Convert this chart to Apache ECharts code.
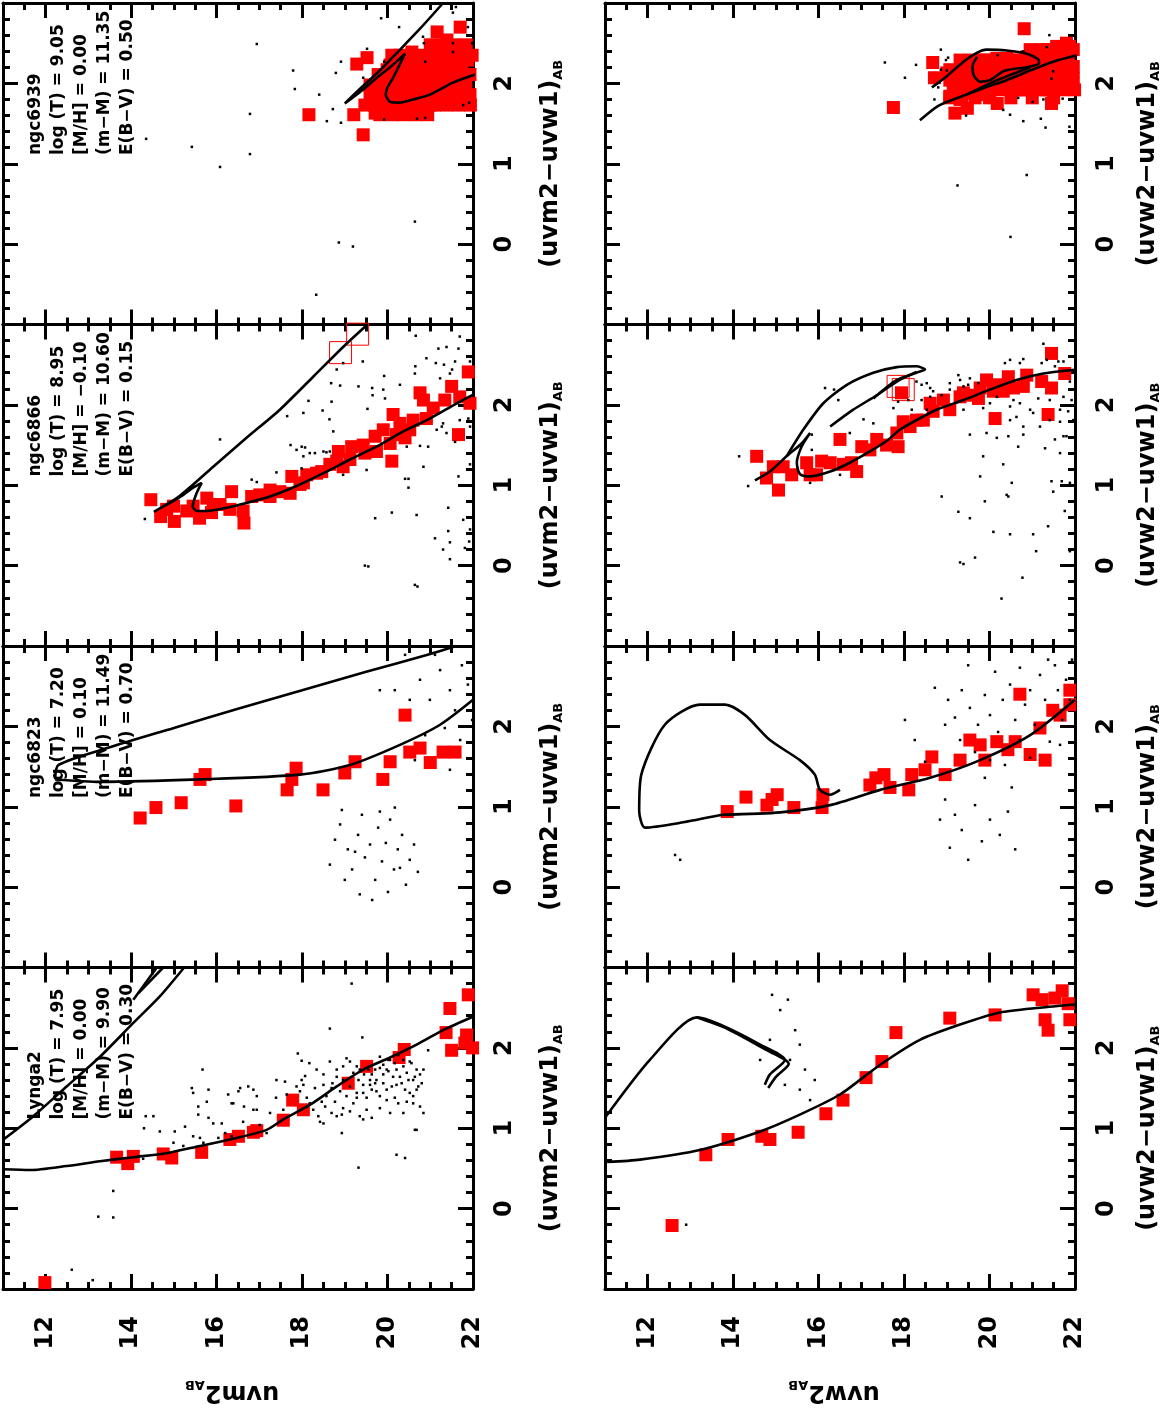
<!DOCTYPE html>
<html>
<head>
<meta charset="utf-8">
<script src="https://cdn.jsdelivr.net/npm/echarts@6/dist/echarts.min.js"></script>
<style>
  html, body { margin: 0; padding: 0; background: #fff; }
  #chart { width: 1167px; height: 1409px; }
</style>
</head>
<body>
<div id="chart"></div>
<script>
// every point is [magnitude, colour]

// ---- uvm2 : ngc6939 ----
const n6939M_members = [
  [18.16,1.61],[19.28,2.24],[19.52,2.32],[19.43,1.36],[19.21,1.61],[19.47,1.73],
  [19.82,2.08],[19.99,2.17],[20.10,2.35],[20.57,2.39],[20.76,2.23],[21.16,2.64],[21.39,2.54],
  [21.70,2.70],[21.34,2.42],[21.58,2.29],[21.88,2.29],[22.07,2.23],[22.07,2.04],[21.93,1.86],
  [21.70,1.80],[21.34,1.76],[20.99,1.73],[20.64,1.70],[20.29,1.65],[19.94,1.63],[19.71,1.63],
  [19.94,1.86],[20.29,1.89],[20.64,1.92],[20.99,1.94],[21.34,1.98],[21.70,2.04],[20.76,2.11],
  [21.11,2.17],[20.17,2.04],[19.78,1.86],[19.87,2.04],[20.41,1.80],[21.51,1.86],[21.93,2.11],
  [21.00,2.48],[21.28,2.48],[21.56,2.48],[21.84,2.48],[22.07,2.48],
  [20.29,2.35],[20.57,2.35],[20.85,2.35],[21.13,2.35],[21.41,2.35],[21.70,2.35],[21.98,2.35],
  [20.06,2.23],[20.34,2.23],[20.62,2.23],[20.90,2.23],[21.18,2.23],[21.46,2.23],[21.74,2.23],[22.02,2.23],
  [19.78,2.11],[20.06,2.11],[20.34,2.11],[20.62,2.11],[20.90,2.11],[21.18,2.11],[21.46,2.11],[21.74,2.11],[22.02,2.11],
  [19.59,1.98],[19.87,1.98],[20.15,1.98],[20.43,1.98],[20.71,1.98],[20.99,1.98],[21.27,1.98],[21.55,1.98],[21.83,1.98],[22.05,1.98],
  [19.59,1.86],[19.87,1.86],[20.15,1.86],[20.43,1.86],[20.71,1.86],[20.99,1.86],[21.27,1.86],[21.55,1.86],[21.83,1.86],[22.05,1.86],
  [19.70,1.73],[19.98,1.73],[20.26,1.73],[20.54,1.73],[20.82,1.73],[21.10,1.73],[21.38,1.73],[21.66,1.73],[21.94,1.73],
  [19.82,1.61],[20.10,1.61],[20.38,1.61],[20.66,1.61],[20.94,1.61]
];
const n6939M_field = [
  [16.94,2.49],[17.79,2.16],[17.83,1.93],[16.78,1.62],[14.35,1.31],[15.42,1.21],[16.78,1.12],
  [16.08,0.96],[18.40,1.86],[18.72,1.68],[18.91,2.27],[18.79,2.13],[18.58,1.53],[18.91,1.51],
  [19.52,2.43],[19.43,2.07],[19.85,2.81],[20.27,2.70],[19.92,2.27],[20.83,2.58],[20.85,2.50],
  [21.53,2.50],[21.53,2.88],[21.60,2.95],[21.88,2.70],[21.98,2.50],[20.69,1.56],[20.88,1.57],
  [21.53,2.39],[21.77,1.73],[21.91,1.76],[20.64,0.28],[18.86,0.02],[19.19,-0.03],[18.33,-0.63],
  [19.92,1.55],[20.88,2.27]
];
const n6939M_iso = [
  [22.05,2.11],[21.53,2.01],[20.99,1.86],[20.60,1.80],[20.29,1.76],[20.06,1.77],[19.96,1.86],
  [19.99,1.94],[20.13,2.07],[20.41,2.37],[20.06,2.20],[19.75,2.07],[19.35,1.89],[19.00,1.75],
  [19.35,1.93],[19.82,2.16],[20.22,2.38],[20.76,2.68],[21.30,3.00]
];

// ---- uvm2 : ngc6866 ----
const n6866M_members = [
  [14.46,0.82],[14.69,0.61],[14.99,0.74],[15.01,0.55],[15.30,0.68],[15.60,0.59],[15.77,0.84],
  [15.88,0.66],[16.08,0.76],[16.35,0.92],[16.31,0.70],[16.62,0.68],[16.64,0.53],[16.82,0.86],
  [17.01,0.88],[17.25,0.94],[17.48,0.92],[17.72,0.90],[17.76,1.11],[17.95,1.01],[18.11,1.13],
  [18.34,1.15],[18.46,1.17],[18.81,1.30],[18.85,1.42],[19.12,1.32],[19.16,1.48],[19.43,1.50],
  [19.74,1.42],[19.71,1.61],[19.90,1.69],[20.13,1.88],[20.10,1.30],[20.21,1.63],[20.29,1.77],
  [20.41,1.59],[20.60,1.81],[20.76,2.15],[20.84,2.06],[20.91,1.83],[21.07,1.96],[21.34,2.06],
  [21.50,2.23],[21.69,2.10],[21.66,1.63],[21.89,2.41],[21.93,2.02],[20.52,1.69],[20.06,1.52],
  [18.65,1.26],[18.96,1.23],[19.47,1.40],[17.25,0.86],[18.03,1.03],[15.45,0.74],[14.83,0.70],
  [15.92,0.76]
];
const n6866M_open = [[18.90,2.65],[19.30,2.88]];
const n6866M_field = [
  [14.32,0.58],[16.08,1.57],[16.82,1.07],[17.40,1.16],[17.73,1.50],[17.87,1.44],[17.99,1.48],
  [18.03,1.36],[18.07,1.47],[18.15,2.05],[18.30,1.40],[18.50,1.42],[18.57,1.41],[17.65,1.86],
  [18.03,1.90],[18.48,1.93],[18.64,1.82],[18.68,2.27],[18.69,2.04],[18.89,2.24],[18.96,2.52],
  [18.73,1.67],[18.81,2.44],[19.32,2.23],[19.42,2.54],[19.53,1.95],[19.64,2.21],[19.65,2.12],
  [19.90,2.19],[19.94,2.08],[19.92,2.36],[20.29,2.25],[20.64,2.39],[20.65,2.48],[20.66,2.86],
  [20.91,2.58],[21.13,2.52],[21.19,2.70],[21.23,2.33],[21.32,2.50],[21.38,2.72],[21.46,2.39],
  [21.51,2.44],[21.58,2.54],[21.66,2.70],[21.69,2.85],[21.93,2.54],[21.89,1.83],[21.93,1.73],
  [21.30,1.77],[21.38,1.65],[21.58,1.54],[21.69,1.81],[20.76,1.49],[20.95,1.48],[20.45,1.48],
  [20.84,1.23],[20.68,0.63],[20.49,0.97],[20.41,1.08],[20.49,1.08],[20.10,0.66],[19.71,0.59],
  [19.55,-0.01],[19.47,0.00],[20.64,-0.24],[20.70,-0.26],[21.11,0.34],[21.30,0.20],[21.42,0.43],
  [21.46,0.29],[21.46,0.08],[21.42,0.72],[21.77,0.57],[21.93,0.45],[21.91,0.30],[21.81,0.22],
  [21.66,1.11],[21.93,1.26],[18.96,1.13],[19.51,1.19],[16.94,1.04],[17.99,1.21],[18.18,1.40],
  [18.65,1.42],[21.15,1.69],[21.27,1.73]
];
const n6866M_iso = [
  [22.05,2.14],[21.62,2.02],[20.99,1.83],[20.37,1.67],[19.74,1.48],[19.12,1.32],[18.50,1.15],
  [17.87,0.99],[17.25,0.86],[16.70,0.78],[16.23,0.72],[15.77,0.68],[15.53,0.68],[15.44,0.74],
  [15.53,0.90],[15.65,1.03],[15.45,0.97],[15.22,0.88],[14.91,0.78],[14.53,0.67],[15.14,0.87],
  [15.92,1.23],[16.70,1.59],[17.48,1.94],[18.26,2.35],[18.96,2.72],[19.51,2.99]
];

// ---- uvm2 : ngc6823 ----
const n6823M_members = [
  [14.21,0.86],[14.58,0.99],[15.17,1.05],[15.61,1.34],[15.73,1.40],[16.45,1.01],[17.65,1.21],
  [17.76,1.34],[17.86,1.48],[18.49,1.21],[19.00,1.42],[19.24,1.56],[19.89,1.34],[20.06,1.56],
  [20.41,2.14],[20.52,1.68],[21.00,1.55],[21.30,1.68],[21.58,1.68],[20.76,1.73]
];
const n6823M_field = [
  [18.77,0.59],[18.89,0.78],[19.07,0.47],[19.17,0.22],[19.31,0.65],[19.40,0.90],[19.47,0.37],
  [19.59,0.53],[19.71,0.09],[19.78,0.74],[19.87,0.32],[19.96,0.55],[20.06,0.84],[20.15,0.22],
  [20.24,0.47],[20.34,0.65],[20.43,0.03],[20.52,0.34],[20.62,0.53],[19.35,-0.09],[19.00,0.09],
  [19.64,-0.16],[20.01,-0.06],[18.65,0.28],[18.93,0.96],[20.17,0.99],[20.71,0.19],[19.24,0.44],
  [19.82,0.94],[20.29,0.24],
  [20.41,2.89],[20.76,2.58],[20.99,2.33],[21.23,2.70],[21.46,2.45],[21.58,2.20],[21.74,2.76],
  [21.88,2.52],[21.98,2.08],[21.34,1.98],[20.88,1.89],[20.52,2.33],[20.17,2.45],[21.70,1.83],
  [22.05,2.33],[21.11,2.89],[19.82,2.45],[20.64,1.58],[21.46,1.46]
];
const n6823M_iso = [
  [12.22,1.34],[13.27,1.31],[15.61,1.34],[17.95,1.40],[19.12,1.52],[20.29,1.77],[21.23,2.02],
  [22.00,2.33]
];
const n6823M_iso2 = [
  [12.22,1.34],[12.30,1.52],[13.50,1.74],[15.00,1.98],[16.50,2.22],[18.00,2.45],[19.50,2.68],
  [21.00,2.90],[21.60,3.00]
];

// ---- uvm2 : Lynga2 ----
const ly2M_members = [
  [11.98,-0.92],[13.66,0.64],[13.92,0.56],[14.05,0.65],[14.75,0.68],[14.95,0.63],[15.65,0.70],
  [16.31,0.86],[16.51,0.90],[16.86,0.95],[16.94,0.97],[17.56,1.10],[17.78,1.35],[18.03,1.23],
  [19.08,1.56],[19.51,1.77],[20.27,1.88],[20.39,1.98],[21.37,2.19],[21.46,2.49],[21.50,1.97],
  [21.81,2.06],[21.89,2.66],[21.85,2.16],[21.99,2.00]
];
const ly2M_field = [
  [19.16,2.80],[18.65,2.24],[19.41,2.13],[15.67,1.73],[20.95,1.97],[17.90,1.93],[17.99,1.84],
  [18.17,1.81],[18.07,1.65],[17.99,1.60],[18.34,1.73],[18.50,1.67],[18.65,1.83],[18.81,1.73],
  [18.96,1.77],[19.04,1.87],[19.12,1.83],[19.20,1.69],[19.32,1.60],[19.43,1.54],[19.55,1.73],
  [19.63,1.67],[19.74,1.60],[19.82,1.75],[19.90,1.79],[19.98,1.73],[20.06,1.85],[20.17,1.81],
  [20.21,1.73],[20.29,1.64],[20.37,1.77],[20.45,1.69],[20.52,1.83],[20.60,1.60],[20.68,1.73],
  [20.76,1.67],[20.80,1.56],[20.84,1.73],[19.90,1.56],[19.98,1.48],[20.10,1.52],[20.21,1.54],
  [20.33,1.56],[20.41,1.48],[20.52,1.44],[20.60,1.40],[20.68,1.48],[19.74,1.46],[19.63,1.48],
  [19.51,1.38],[19.43,1.44],[19.82,1.40],[19.98,1.35],[20.17,1.38],[20.25,1.31],[20.45,1.33],
  [20.60,1.31],[20.76,1.27],[20.84,1.19],[20.72,1.52],[20.37,1.19],[20.06,1.19],[19.82,1.25],
  [19.63,1.13],[19.43,1.11],[19.20,1.31],[19.12,1.21],[18.96,1.25],[18.81,1.15],[18.69,1.19],
  [18.54,1.27],[18.46,1.33],[18.38,1.15],[18.26,1.23],[18.18,1.31],[18.11,1.38],[17.95,1.46],
  [17.87,1.52],[18.03,1.54],[18.30,1.50],[18.50,1.54],[18.69,1.50],[18.89,1.46],[19.04,1.40],
  [19.28,1.38],[18.57,1.40],[18.77,1.33],[18.93,1.17],[18.50,1.06],[18.42,1.08],[18.93,0.94],
  [19.28,1.44],[19.35,1.15],[19.51,1.23],[19.59,1.54],[19.71,1.73],[19.82,1.89],[20.02,1.85],
  [20.13,1.64],[20.25,1.91],[20.37,1.85],[20.49,1.60],[20.56,1.81],[20.64,1.64],[20.02,1.71],
  [19.90,1.67],[19.71,1.56],[19.59,1.60],[19.45,1.67],[19.35,1.73],[19.12,1.52],[18.96,1.60],
  [18.81,1.64],[18.71,1.56],[19.28,1.77],[20.68,0.98],[20.64,0.98],[20.21,0.67],[20.41,0.63],
  [19.32,0.51],[17.60,1.58],[17.40,1.60],[17.39,1.38],[17.64,1.42],[17.56,1.23],[17.25,1.19],
  [17.17,0.94],[17.01,1.04],[16.94,1.23],[16.94,1.40],[16.86,1.48],[16.86,1.23],[16.74,1.52],
  [16.64,1.27],[16.55,1.50],[16.51,1.46],[16.39,1.31],[16.35,1.31],[16.27,1.42],[16.12,1.06],
  [16.20,0.94],[16.35,0.90],[16.62,1.08],[16.04,0.88],[15.92,1.06],[15.81,1.13],[15.81,1.48],
  [15.77,1.33],[15.57,1.27],[15.57,1.17],[15.45,1.44],[15.42,1.50],[15.26,1.02],[15.02,0.96],
  [14.99,0.82],[14.67,0.96],[14.52,1.15],[15.45,0.90],[15.61,0.88],[15.69,0.82],[15.22,0.78],
  [14.30,1.00],[14.34,1.15],[13.58,0.22],[13.23,-0.10],[13.58,-0.11],[12.61,-0.76],[13.10,-0.89],
  [14.28,0.62]
];
const ly2M_iso = [
  [11.01,0.49],[11.63,0.48],[12.49,0.53],[13.27,0.59],[14.05,0.64],[14.83,0.69],[15.61,0.78],
  [16.39,0.87],[17.17,0.98],[17.56,1.11],[18.18,1.29],[18.81,1.52],[19.43,1.73],[20.06,1.88],
  [20.68,2.04],[21.30,2.22],[22.01,2.39]
];
const ly2M_iso2 = [[11.01,0.86],[11.71,1.15],[12.49,1.52],[13.27,1.89],[14.05,2.31],[14.67,2.64],[15.24,3.00]];
const ly2M_iso3 = [[14.05,2.60],[14.60,3.00]];
const ly2M_iso4 = [[14.17,2.68],[14.75,3.00]];

// ---- uvw2 : ngc6939 ----
const n6939W_members = [
  [20.81,2.68],[17.75,1.70],[18.67,2.26],[18.71,2.07],[19.19,1.63],[19.48,1.69],[20.18,1.75],
  [21.45,1.75],[21.69,1.97],[21.87,2.46],
  [19.00,2.13],[19.15,1.96],[19.07,1.84],[19.31,1.80],[19.46,1.88],[19.62,2.00],[19.78,2.13],
  [19.85,2.29],[20.01,2.21],[20.17,2.31],[20.40,2.31],[20.63,2.29],[20.87,2.33],[21.10,2.37],
  [21.34,2.42],[21.57,2.46],[21.80,2.50],[21.96,2.42],[21.96,2.21],[21.96,2.06],[21.73,2.09],
  [21.49,2.04],[21.26,1.98],[21.02,1.94],[20.79,1.92],[20.56,1.94],[20.32,1.96],[20.09,1.94],
  [19.85,1.92],[19.70,1.86],[19.39,2.00],[19.23,2.13],[19.54,2.17],[19.78,1.98],[20.24,2.09],
  [20.56,2.13],[20.87,2.09],[21.18,2.17],[21.49,2.25],[21.73,2.29],[21.02,2.25],[20.71,2.23],
  [20.40,2.19],[20.09,2.06],[21.34,1.92],[21.73,1.94],
  [20.95,2.42],[21.23,2.42],[21.51,2.42],[21.79,2.42],
  [19.31,2.29],[19.59,2.29],[19.87,2.29],[20.15,2.29],[20.43,2.29],[20.71,2.29],[20.99,2.29],[21.27,2.29],[21.55,2.29],[21.84,2.29],
  [19.07,2.17],[19.35,2.17],[19.63,2.17],[19.91,2.17],[20.20,2.17],[20.48,2.17],[20.76,2.17],[21.04,2.17],[21.32,2.17],[21.60,2.17],[21.88,2.17],
  [19.07,2.04],[19.35,2.04],[19.63,2.04],[19.91,2.04],[20.20,2.04],[20.48,2.04],[20.76,2.04],[21.04,2.04],[21.32,2.04],[21.60,2.04],[21.88,2.04],
  [19.19,1.92],[19.47,1.92],[19.75,1.92],[20.03,1.92],[20.31,1.92],[20.59,1.92],[20.87,1.92],[21.15,1.92],[21.43,1.92],[21.71,1.92],[21.99,1.92],
  [19.07,1.82],[19.35,1.82],[19.66,1.82],[20.00,1.82],[20.50,1.82],[21.00,1.82],[21.50,1.82]
];
const n6939W_field = [
  [17.55,2.26],[18.28,2.23],[18.02,2.07],[18.86,2.42],[19.03,2.32],[18.98,2.29],[18.71,1.80],
  [18.80,1.95],[18.86,2.17],[19.00,2.16],[19.45,1.60],[20.32,1.67],[20.48,1.61],[20.79,1.53],
  [20.67,1.82],[21.01,1.77],[21.20,1.56],[21.31,1.45],[21.26,1.80],[21.40,2.60],[21.34,2.45],
  [21.49,2.15],[21.45,2.06],[21.71,1.81],[21.87,1.46],[20.87,0.86],[19.25,0.73],[20.49,0.09],
  [20.19,2.35],[20.79,2.40]
];
const n6939W_isoA = [[18.37,1.54],[18.80,1.72],[19.31,1.83],[19.85,1.94],[20.40,2.04],[20.95,2.16],[21.49,2.27],[22.04,2.35]];
const n6939W_isoB = [
  [18.65,1.95],[19.00,2.09],[19.39,2.27],[19.70,2.38],[19.93,2.42],[20.40,2.41],[20.87,2.37],
  [21.14,2.30],[21.16,2.25],[20.87,2.20],[20.56,2.18],[20.32,2.15],[20.01,2.04],[19.78,2.02],
  [19.64,2.09],[19.60,2.21],[19.71,2.33]
];
const n6939W_isoC = [[19.50,1.87],[20.01,2.00],[20.56,2.12],[20.95,2.20]];

// ---- uvw2 : ngc6866 ----
const n6866W_members = [
  [14.55,1.36],[14.78,1.09],[14.94,1.23],[15.06,0.94],[15.17,1.23],[15.37,1.13],[15.72,1.28],
  [15.80,1.13],[15.95,1.13],[16.07,1.30],[16.27,1.28],[16.50,1.57],[16.58,1.26],[16.77,1.28],
  [16.89,1.17],[17.01,1.48],[17.20,1.44],[17.36,1.57],[17.59,1.50],[17.83,1.65],[17.86,1.48],
  [17.98,1.79],[18.14,1.73],[18.29,1.81],[18.45,1.81],[18.68,1.92],[18.92,2.06],[19.07,1.94],
  [19.31,2.10],[19.54,2.12],[19.74,2.08],[19.78,2.21],[19.93,2.31],[20.09,2.17],[20.13,1.83],
  [20.17,2.25],[20.44,2.35],[20.56,2.21],[20.79,2.23],[20.87,2.37],[21.22,2.29],[21.45,2.64],
  [21.45,2.21],[21.37,1.88],[21.76,2.39],[17.94,2.15],[18.61,2.02],[19.39,2.15],[20.32,2.17]
];
const n6866W_open = [[17.86,2.23],[17.98,2.19]];
const n6866W_field = [
  [14.14,1.36],[14.35,0.99],[16.15,2.21],[16.36,2.19],[16.46,2.06],[15.84,1.63],[15.84,1.44],
  [16.73,1.65],[16.50,1.13],[15.80,1.03],[17.05,1.82],[17.28,1.77],[17.75,1.96],[17.86,2.04],
  [18.29,2.29],[18.41,2.25],[18.53,2.27],[18.61,2.21],[18.68,2.17],[18.41,2.06],[18.61,2.10],
  [18.53,1.94],[18.18,1.94],[18.10,2.06],[19.07,2.27],[19.27,2.37],[19.31,2.31],[19.39,2.23],
  [19.54,2.33],[19.50,2.25],[19.74,2.27],[19.07,2.19],[18.88,2.12],[20.36,2.52],[20.48,2.56],
  [20.71,2.52],[20.79,2.57],[21.22,2.52],[21.26,2.76],[21.34,2.56],[21.53,2.48],[21.61,2.54],
  [21.73,2.54],[21.88,2.29],[21.92,2.06],[21.96,1.81],[21.84,1.92],[21.65,1.94],[21.41,2.06],
  [21.14,2.08],[20.95,1.94],[21.02,1.90],[20.71,2.02],[20.56,2.06],[20.48,1.98],[20.17,2.10],
  [20.01,2.02],[19.85,1.96],[20.48,1.81],[20.63,1.85],[20.79,1.73],[21.18,1.73],[21.41,1.81],
  [21.65,1.79],[21.73,1.61],[21.53,1.57],[21.30,1.46],[21.65,1.40],[21.80,1.61],[20.79,1.63],
  [20.44,1.61],[20.17,1.59],[19.93,1.65],[19.54,1.63],[20.67,1.48],[19.85,1.36],[20.32,1.26],
  [19.78,1.11],[20.52,1.03],[20.40,0.88],[20.44,0.86],[19.89,0.80],[18.88,0.86],[19.27,0.67],
  [19.54,0.59],[20.09,0.42],[20.48,0.39],[21.02,0.39],[19.66,0.10],[19.31,0.04],[19.39,0.02],
  [20.77,-0.15],[20.28,-0.41],[21.09,0.18],[21.37,0.49],[21.45,1.05],[21.69,1.05],[21.49,0.92],
  [21.76,0.68],[21.88,0.18],[21.88,1.03],[21.73,2.10],[19.39,1.94]
];
const n6866W_iso1 = [
  [14.51,1.06],[14.86,1.17],[15.25,1.36],[15.60,1.52],[15.80,1.65],[15.60,1.48],[15.49,1.28],
  [15.56,1.14],[15.80,1.11],[16.27,1.17],[16.73,1.28],[17.20,1.42],[17.59,1.55],[17.90,1.69],
  [18.29,1.81],[18.76,1.94],[19.39,2.06],[20.01,2.19],[20.63,2.31],[21.26,2.39],[22.04,2.44]
];
const n6866W_iso2 = [
  [15.25,1.36],[15.64,1.69],[16.11,2.02],[16.66,2.25],[17.28,2.40],[17.83,2.47],[18.29,2.48],
  [18.49,2.44],[18.29,2.40],[17.83,2.31],[17.28,2.08]
];
const n6866W_iso3 = [[16.27,1.73],[16.81,1.94],[17.36,2.12],[17.83,2.29],[18.29,2.41]];

// ---- uvw2 : ngc6823 ----
const n6823W_members = [
  [13.86,0.94],[14.30,1.12],[14.79,1.02],[14.91,1.09],[15.03,1.15],[15.42,0.99],[16.08,0.99],
  [16.10,1.15],[17.20,1.27],[17.34,1.36],[17.53,1.40],[17.67,1.24],[18.11,1.21],[18.18,1.40],
  [18.49,1.46],[18.65,1.62],[18.96,1.40],[19.31,1.58],[19.54,1.83],[19.78,1.77],[19.89,1.58],
  [20.17,1.81],[20.43,1.71],[20.60,1.81],[20.71,2.40],[21.18,1.98],[21.48,2.20],[21.65,2.14],
  [21.88,2.27],[21.88,2.45],[20.95,1.65],[21.30,1.58]
];
const n6823W_field = [
  [18.72,2.48],[19.03,2.33],[19.19,2.11],[19.35,2.45],[19.54,2.23],[19.73,2.02],[19.89,2.39],
  [20.01,2.14],[20.20,1.93],[20.31,2.33],[20.48,2.52],[20.60,2.08],[20.71,1.83],[20.83,2.27],
  [20.95,2.45],[21.06,2.02],[21.18,2.64],[21.30,2.33],[21.41,1.81],[21.53,2.76],[21.60,2.45],
  [21.70,2.08],[21.79,2.58],[21.88,2.33],[21.93,2.83],[21.37,2.83],[20.71,2.73],[20.13,2.68],
  [19.50,2.76],[18.96,2.02],[19.31,1.83],[19.66,1.68],[20.01,1.58],[20.36,1.52],[20.95,1.61],
  [21.65,1.77],[18.96,1.09],[19.19,0.90],[19.35,0.71],[19.66,1.02],[19.82,0.57],[20.01,0.84],
  [20.24,0.65],[20.43,0.94],[20.60,0.47],[19.07,0.49],[19.50,0.34],[18.84,0.84],[18.49,1.56],
  [18.25,1.83],[18.02,2.08],[20.52,1.24],[19.89,1.36],[12.76,0.34],[12.64,0.40]
];
const n6823W_iso1 = [
  [13.74,0.90],[12.76,0.80],[11.94,0.74],[11.80,0.95],[11.85,1.40],[12.40,2.02],[13.22,2.27],
  [13.81,2.27],[14.28,2.14],[14.86,1.83],[15.56,1.58],[15.91,1.40],[16.03,1.21],[16.27,1.15],
  [16.50,1.21]
];
const n6823W_iso2 = [[13.74,0.90],[15.10,0.93],[16.27,1.02],[17.44,1.21],[18.61,1.36],[19.78,1.58],[20.95,1.89],[22.00,2.33]];

// ---- uvw2 : Lynga2 ----
const ly2W_members = [
  [12.57,-0.21],[13.36,0.67],[13.88,0.86],[14.67,0.90],[14.86,0.86],[15.52,0.95],[16.17,1.18],
  [16.57,1.35],[17.11,1.63],[17.48,1.83],[17.81,2.19],[19.07,2.37],[20.13,2.41],[21.02,2.66],
  [21.23,2.60],[21.53,2.62],[21.70,2.71],[21.84,2.55],[21.88,2.35],[21.30,2.35],[21.37,2.22]
];
const ly2W_field = [
  [14.91,2.66],[15.10,2.47],[15.28,2.60],[15.45,2.22],[15.56,2.04],[15.33,1.85],[15.68,1.73],
  [15.56,1.48],[15.80,1.35],[15.91,1.60],[14.86,2.10],[14.63,1.85],[15.21,1.54],[12.90,-0.20]
];
const ly2W_iso1 = [
  [11.05,0.58],[11.82,0.61],[13.22,0.73],[14.63,0.96],[15.56,1.17],[16.50,1.42],[17.44,1.79],
  [18.37,2.10],[19.31,2.29],[20.24,2.44],[21.18,2.50],[22.00,2.54]
];
const ly2W_iso2 = [
  [11.00,1.13],[12.05,1.85],[13.15,2.38],[13.69,2.29],[14.63,2.04],[15.21,1.85],[14.86,1.67],
  [14.74,1.54]
];
const ly2W_iso3 = [[13.15,2.38],[13.85,2.24],[14.75,1.98],[15.30,1.80],[15.00,1.64],[14.82,1.50]];

// ---- axis ticks and labels ----
const magMajor = [12, 14, 16, 18, 20, 22];
const magMinor = [11.5, 12.5, 13, 13.5, 14.5, 15, 15.5, 16.5, 17, 17.5, 18.5, 19, 19.5, 20.5, 21, 21.5];
const colMajor = [0, 1, 2];
const colMinor = [-0.8, -0.6, -0.4, -0.2, 0.2, 0.4, 0.6, 0.8, 1.2, 1.4, 1.6, 1.8, 2.2, 2.4, 2.6, 2.8];

const clusters = [
  { name: 'ngc6939', logT: '9.05', mh: '0.00', dm: '11.35', ebv: '0.50' },
  { name: 'ngc6866', logT: '8.95', mh: '\u22120.10', dm: '10.60', ebv: '0.15' },
  { name: 'ngc6823', logT: '7.20', mh: '0.10', dm: '11.49', ebv: '0.70' },
  { name: 'Lynga2', logT: '7.95', mh: '0.00', dm: '9.90', ebv: '0.30' }
];

// col 0 = uvm2, col 1 = uvw2; row 0 at the top
const panels = [
  { col: 0, row: 0, members: n6939M_members, field: n6939M_field, open: [], lines: [n6939M_iso] },
  { col: 0, row: 1, members: n6866M_members, field: n6866M_field, open: n6866M_open, lines: [n6866M_iso] },
  { col: 0, row: 2, members: n6823M_members, field: n6823M_field, open: [], lines: [n6823M_iso, n6823M_iso2] },
  { col: 0, row: 3, members: ly2M_members, field: ly2M_field, open: [], lines: [ly2M_iso, ly2M_iso2, ly2M_iso3, ly2M_iso4] },
  { col: 1, row: 0, members: n6939W_members, field: n6939W_field, open: [], lines: [n6939W_isoA, n6939W_isoB, n6939W_isoC] },
  { col: 1, row: 1, members: n6866W_members, field: n6866W_field, open: n6866W_open, lines: [n6866W_iso1, n6866W_iso2, n6866W_iso3] },
  { col: 1, row: 2, members: n6823W_members, field: n6823W_field, open: [], lines: [n6823W_iso1, n6823W_iso2] },
  { col: 1, row: 3, members: ly2W_members, field: ly2W_field, open: [], lines: [ly2W_iso1, ly2W_iso2, ly2W_iso3] }
];

const FONT = 'DejaVu Sans';
const colLeft = [3, 605];
const plotW = 470;
const top0 = 3;
const rowH = 321.5;

const grid = [], xAxis = [], yAxis = [], series = [], graphic = [];

function tickAxis(base, values, len, withLine) {
  return Object.assign({
    type: 'value',
    splitLine: { show: false },
    axisLine: { show: withLine, onZero: false, lineStyle: { color: '#000', width: 3 } },
    axisTick: { show: true, inside: true, length: len, customValues: values, lineStyle: { color: '#000', width: 3 } },
    axisLabel: { show: false }
  }, base);
}

panels.forEach((p, g) => {
  grid.push({ left: colLeft[p.col], top: top0 + p.row * rowH, width: plotW, height: rowH });
  const xb = { gridIndex: g, min: 11, max: 22 };
  const yb = { gridIndex: g, min: -1, max: 3 };
  const xi = xAxis.length, yi = yAxis.length;

  const bottom = tickAxis(Object.assign({ position: 'bottom' }, xb), magMajor, 15, true);
  if (p.row === 3) {
    bottom.axisLabel = {
      show: true, customValues: magMajor, rotate: 90, margin: 27,
      color: '#000', fontSize: 24, fontWeight: 'bold', fontFamily: FONT
    };
  }
  xAxis.push(bottom);
  xAxis.push(tickAxis(Object.assign({ position: 'bottom' }, xb), magMinor, 7, false));
  xAxis.push(tickAxis(Object.assign({ position: 'top' }, xb), magMajor, 15, true));
  xAxis.push(tickAxis(Object.assign({ position: 'top' }, xb), magMinor, 7, false));

  yAxis.push(tickAxis(Object.assign({ position: 'left' }, yb), colMajor, 15, true));
  yAxis.push(tickAxis(Object.assign({ position: 'left' }, yb), colMinor, 7, false));
  const right = tickAxis(Object.assign({ position: 'right' }, yb), colMajor, 15, true);
  right.axisLabel = {
    show: true, customValues: colMajor, rotate: 90, margin: 20,
    color: '#000', fontSize: 24, fontWeight: 'bold', fontFamily: FONT
  };
  yAxis.push(right);
  yAxis.push(tickAxis(Object.assign({ position: 'right' }, yb), colMinor, 7, false));

  series.push({
    type: 'scatter', xAxisIndex: xi, yAxisIndex: yi, data: p.members,
    symbol: 'rect', symbolSize: 13, itemStyle: { color: '#ff0000', opacity: 1 }, z: 2, silent: true
  });
  if (p.open.length) {
    series.push({
      type: 'scatter', xAxisIndex: xi, yAxisIndex: yi, data: p.open,
      symbol: 'rect', symbolSize: 22,
      itemStyle: { color: 'rgba(0,0,0,0)', borderColor: '#ff0000', borderWidth: 1, opacity: 1 }, z: 3, silent: true
    });
  }
  series.push({
    type: 'scatter', xAxisIndex: xi, yAxisIndex: yi, data: p.field,
    symbol: 'rect', symbolSize: 2.5, itemStyle: { color: '#000', opacity: 1 }, z: 4, silent: true
  });
  p.lines.forEach(l => {
    series.push({
      type: 'line', xAxisIndex: xi, yAxisIndex: yi, data: l,
      showSymbol: false, symbol: 'none', smooth: 0.25,
      lineStyle: { color: '#000', width: 2.6 }, z: 5, silent: true
    });
  });

  const ptop = top0 + p.row * rowH;
  // colour-axis title on the right of every panel
  const band = p.col === 0 ? 'uvm2' : 'uvw2';
  graphic.push({
    type: 'text', x: p.col === 0 ? 551 : 1148, y: ptop + rowH / 2, rotation: Math.PI / 2,
    style: {
      text: '{m|(' + band + '\u2212uvw1)}{s|AB}',
      align: 'center', verticalAlign: 'middle',
      rich: {
        m: { fontSize: 24, fontWeight: 'bold', fontFamily: FONT, fill: '#000', lineHeight: 28 },
        s: { fontSize: 13, fontWeight: 'bold', fontFamily: FONT, fill: '#000', lineHeight: 14, verticalAlign: 'bottom' }
      }
    }
  });

  // cluster parameters, uvm2 panels only
  if (p.col === 0) {
    const c = clusters[p.row];
    const lines = [c.name, 'log (T) = ' + c.logT, '[M/H] = ' + c.mh,
                   '(m\u2212M) = ' + c.dm, 'E(B\u2212V) = ' + c.ebv];
    lines.forEach((t, k) => {
      graphic.push({
        type: 'text', x: 36 + k * 23, y: ptop + 152, rotation: Math.PI / 2,
        style: { text: t, align: 'left', verticalAlign: 'middle', fontSize: 17, fontWeight: 'bold', fontFamily: FONT, fill: '#000' }
      });
    });
  }
});

// magnitude axis titles (upside down)
[['uvm2', 232], ['uvw2', 834]].forEach(([b, cx]) => {
  graphic.push({
    type: 'text', x: cx, y: 1392, rotation: Math.PI,
    style: {
      text: '{m|' + b + '}{s|AB}', align: 'center', verticalAlign: 'middle',
      rich: {
        m: { fontSize: 24, fontWeight: 'bold', fontFamily: FONT, fill: '#000', lineHeight: 28 },
        s: { fontSize: 13, fontWeight: 'bold', fontFamily: FONT, fill: '#000', lineHeight: 14, verticalAlign: 'bottom' }
      }
    }
  });
});

const chart = echarts.init(document.getElementById('chart'), null, { renderer: 'canvas' });
chart.setOption({
  backgroundColor: '#fff',
  animation: false,
  grid, xAxis, yAxis, series, graphic
});
</script>
</body>
</html>
